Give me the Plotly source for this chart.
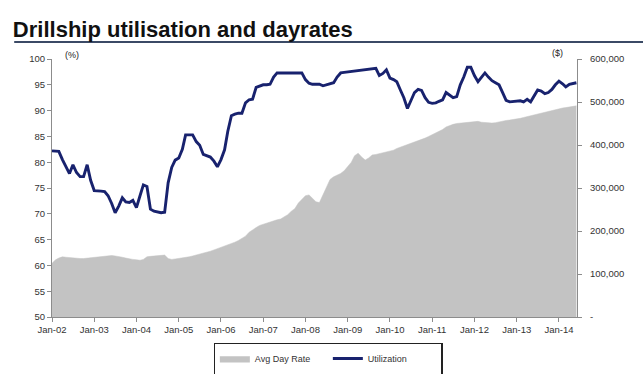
import pandas as pd
import plotly.graph_objects as go

# Monthly observations, Jan 2002 - Jun 2014
months = pd.date_range("2002-01-01", "2014-06-01", freq="MS")

# Fleet utilisation (%)
utilization = [
    82.2, 82.2, 82.1, 80.5, 79.0, 77.8, 79.5, 78.0, 77.2, 77.2, 79.5, 76.5,   # 2002
    74.5, 74.5, 74.4, 74.3, 73.5, 72.0, 70.2, 71.5, 73.1, 72.3, 72.2, 72.6,   # 2003
    71.2, 73.5, 75.6, 75.3, 70.9, 70.5, 70.3, 70.2, 70.3, 76.0, 79.0, 80.4,   # 2004
    80.8, 82.5, 85.3, 85.3, 85.3, 84.0, 83.3, 81.5, 81.2, 81.0, 80.2, 79.1,   # 2005
    80.5, 82.4, 86.0, 89.0, 89.3, 89.5, 89.5, 91.5, 92.1, 92.2, 94.5, 94.8,   # 2006
    95.0, 95.0, 95.1, 96.5, 97.3, 97.3, 97.3, 97.3, 97.3, 97.3, 97.3, 97.3,   # 2007
    96.0, 95.3, 95.1, 95.1, 95.1, 94.8, 95.0, 95.2, 95.4, 96.5, 97.3, 97.4,   # 2008
    97.5, 97.6, 97.7, 97.8, 97.8, 97.9, 98.0, 98.1, 98.2, 96.8, 97.2, 97.9,   # 2009
    96.3, 96.0, 95.6, 94.0, 92.5, 90.4, 92.1, 93.5, 94.1, 93.9, 92.5, 91.6,   # 2010
    91.4, 91.5, 91.8, 92.1, 93.5, 93.0, 92.5, 92.7, 95.0, 96.5, 98.4, 98.4,   # 2011
    96.8, 95.6, 96.5, 97.3, 96.5, 95.8, 95.4, 95.0, 93.5, 92.0, 91.7, 91.8,   # 2012
    91.8, 91.9, 91.7, 92.2, 91.7, 93.0, 94.0, 93.8, 93.3, 93.5, 94.1, 95.0,   # 2013
    95.7, 95.2, 94.6, 95.1, 95.3, 95.4,                                       # 2014
]

# Average day rate (US$ thousand per day)
day_rate_k = [
    125, 133, 137, 140, 139, 138, 137, 137, 136, 136, 137, 137,   # 2002
    138, 139, 140, 141, 142, 143, 142, 141, 139, 137, 135, 134,   # 2003
    133, 132, 134, 140, 141, 142, 143, 144, 144, 136, 134, 135,   # 2004
    136, 137, 139, 140, 142, 144, 146, 148, 151, 153, 156, 159,   # 2005
    162, 165, 167, 170, 174, 178, 183, 188, 197, 203, 208, 213,   # 2006
    216, 218, 221, 224, 226, 228, 232, 238, 246, 252, 265, 274,   # 2007
    282, 284, 276, 268, 266, 285, 305, 320, 326, 330, 334, 340,   # 2008
    349, 360, 375, 381, 372, 365, 370, 377, 378, 380, 382, 384,   # 2009
    386, 388, 392, 395, 398, 400, 404, 406, 409, 412, 416, 420,   # 2010
    424, 428, 431, 436, 442, 446, 448, 450, 451, 452, 453, 454,   # 2011
    454, 455, 453, 452, 451, 451, 452, 454, 456, 457, 458, 459,   # 2012
    460, 462, 464, 466, 468, 470, 472, 474, 476, 478, 481, 483,   # 2013
    485, 486, 487, 488, 489, 491,                                 # 2014
]
day_rate = [v * 1000 for v in day_rate_k]

pct_ticks = list(range(50, 101, 5))
usd_ticks = [0, 100000, 200000, 300000, 400000, 500000, 600000]
usd_labels = ["-", "100,000", "200,000", "300,000", "400,000", "500,000", "600,000"]

FONT = "Liberation Sans Narrow, Arial Narrow, Liberation Sans, Arial, sans-serif"
AXIS_GREY = "#8c8c8c"

fig = go.Figure()

fig.add_trace(go.Scatter(
    x=months, y=day_rate, name="Avg Day Rate",
    mode="lines", line=dict(color="#c3c3c3", width=0.5),
    fill="tozeroy", fillcolor="#c3c3c3", yaxis="y",
))

fig.add_trace(go.Scatter(
    x=months, y=utilization, name="Utilization",
    mode="lines", line=dict(color="#18226e", width=2.9),
    yaxis="y2",
))

fig.update_layout(
    width=643, height=374,
    margin=dict(l=52, r=66, t=59, b=57, autoexpand=False),
    paper_bgcolor="white", plot_bgcolor="white",
    font=dict(family=FONT, size=10, color="#222222"),
    showlegend=True,
    title=dict(
        text="<b>Drillship utilisation and dayrates</b>",
        x=0.02, xanchor="left", xref="container",
        y=0.922, yanchor="middle",
        font=dict(family="Liberation Sans, Arial, sans-serif", size=22, color="#111111"),
    ),
    xaxis=dict(
        type="date",
        range=["2002-01-01", "2014-06-06"],
        tick0="2002-01-01", dtick="M12", tickformat="%b-%y",
        showgrid=False, zeroline=False,
        showline=True, linecolor=AXIS_GREY, linewidth=1,
        ticks="outside", ticklen=4, tickcolor=AXIS_GREY,
        tickfont=dict(size=9.5, color="#333333"),
    ),
    # primary axis (day rate, $) on the right so the line overlays the area
    yaxis=dict(
        side="right",
        range=[0, 600000],
        tickvals=usd_ticks, ticktext=usd_labels,
        showgrid=False, zeroline=False,
        showline=True, linecolor=AXIS_GREY, linewidth=1,
        ticks="outside", ticklen=4, tickcolor=AXIS_GREY,
        tickfont=dict(size=9.5, color="#333333"),
        ticklabelstandoff=6,
    ),
    yaxis2=dict(
        overlaying="y", side="left",
        range=[50, 100],
        tickvals=pct_ticks,
        showgrid=False, zeroline=False,
        showline=True, linecolor=AXIS_GREY, linewidth=1,
        ticks="outside", ticklen=4, tickcolor=AXIS_GREY,
        tickfont=dict(size=9.5, color="#333333"),
    ),
    legend=dict(
        orientation="h",
        x=0.526, xanchor="center",
        y=-0.1, yanchor="top",
        bordercolor="#222222", borderwidth=1.2,
        font=dict(size=9, color="#333333"),
        entrywidth=68,
        traceorder="normal",
    ),
)

fig.add_annotation(text="(%)", xref="paper", yref="paper", x=0.038, y=1.016,
                   xanchor="center", yanchor="middle", showarrow=False,
                   font=dict(size=9, color="#222222"))
fig.add_annotation(text="($)", xref="paper", yref="paper", x=0.963, y=1.023,
                   xanchor="center", yanchor="middle", showarrow=False,
                   font=dict(size=9, color="#222222"))

# rule under the heading
fig.add_shape(type="line", xref="paper", yref="paper",
              x0=-0.072, x1=1.13, y0=1.066, y1=1.066,
              line=dict(color="#3b4a66", width=2))

fig.write_html("out.html")
